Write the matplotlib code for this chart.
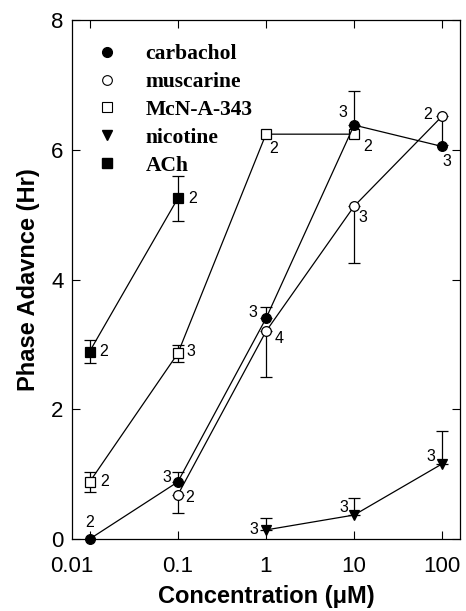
import numpy as np
import matplotlib.pyplot as plt
from matplotlib.lines import Line2D

plt.rcParams['font.family'] = ['Liberation Sans', 'DejaVu Sans']

# ==========================
# DADOS
# ==========================
carb_x = [0.01, 0.1, 1, 10, 100]
carb_y = [0.0, 0.88, 3.40, 6.38, 6.05]
carb_err = [0.0, 0.15, 0.18, 0.52, 0.0]
carb_n = ['2', '3', '3', '3', '3']

musc_x = [0.1, 1, 10, 100]
musc_y = [0.68, 3.20, 5.13, 6.52]
musc_err = [0.28, 0.71, 0.87, 0.45]
musc_n = ['2', '4', '3', '2']

mcn_x = [0.01, 0.1, 1, 10]
mcn_y = [0.88, 2.86, 6.24, 6.24]
mcn_err = [0.16, 0.13, 0.0, 0.0]
mcn_n = ['2', '3', '2', '2']

nic_x = [1, 10, 100]
nic_y = [0.14, 0.37, 1.16]
nic_err = [0.18, 0.26, 0.51]
nic_n = ['3', '3', '3']

ach_x = [0.01, 0.1]
ach_y = [2.89, 5.25]
ach_err = [0.17, 0.35]
ach_n = ['2', '2']

xticks = [0.01, 0.1, 1, 10, 100]
xticklabels = ['0.01', '0.1', '1', '10', '100']
yticks = [0, 2, 4, 6, 8]

# deslocamentos dos rotulos n (pixels)
carb_off = [(0, 17), (-11, 4), (-13, 6), (-11, 13), (5, -15)]
musc_off = [(12, -3), (13, -7), (9, -11), (-15, 2)]
mcn_off = [(15, 0), (13, 2), (8, -14), (13, -12)]
nic_off = [(-12, 0), (-10, 8), (-11, 7)]
ach_off = [(14, 0), (15, 0)]

# ==========================
# GRAFICO
# ==========================
fig = plt.figure(figsize=(4.66, 6.11), dpi=100)
ax = fig.add_axes([0.1545, 0.1178, 0.8325, 0.8495])

ax.set_xscale('log')
ax.set_xlim(10 ** -2.2, 10 ** 2.2)
ax.set_ylim(0, 8)

ms = 7

def serie(x, y, err, marker, face, direction, z):
    yerr = np.array(err)
    zero = np.zeros_like(yerr)
    if direction == 'up':
        lo, hi = zero, yerr
    elif direction == 'down':
        lo, hi = yerr, zero
    else:
        lo, hi = yerr, yerr
    # barras so onde ha erro
    m = yerr > 0
    ax.errorbar(np.array(x)[m], np.array(y)[m], yerr=[lo[m], hi[m]], fmt='none',
                ecolor='black', elinewidth=0.9, capsize=4, capthick=0.9, zorder=z - 1)
    ax.plot(x, y, marker=marker, color='black', markerfacecolor=face,
            linewidth=0.9, markersize=ms, markeredgewidth=0.9, zorder=z, clip_on=False)

serie(mcn_x, mcn_y, mcn_err, 's', 'white', 'both', 4)
serie(musc_x, musc_y, musc_err, 'o', 'white', 'down', 5)
serie(carb_x, carb_y, carb_err, 'o', 'black', 'up', 6)
serie(nic_x, nic_y, nic_err, 'v', 'black', 'up', 6)
serie(ach_x, ach_y, ach_err, 's', 'black', 'both', 6)

def rotulos(x, y, n, off):
    for xi, yi, ni, (dx, dy) in zip(x, y, n, off):
        ax.annotate(ni, (xi, yi), xytext=(dx * 0.72, dy * 0.72), textcoords='offset points',
                    ha='center', va='center', fontsize=11.5, zorder=10)

rotulos(carb_x, carb_y, carb_n, carb_off)
rotulos(musc_x, musc_y, musc_n, musc_off)
rotulos(mcn_x, mcn_y, mcn_n, mcn_off)
rotulos(nic_x, nic_y, nic_n, nic_off)
rotulos(ach_x, ach_y, ach_n, ach_off)

ax.set_xticks(xticks)
# o rotulo 0.01 fica deslocado para a esquerda, como no original
ax.set_xticklabels([''] + xticklabels[1:])
ax.annotate(xticklabels[0], (xticks[0], 0), xycoords=('data', 'axes fraction'),
            xytext=(-13, -12.5), textcoords='offset points', ha='center', va='top',
            fontsize=16)
ax.xaxis.set_minor_locator(plt.NullLocator())
ax.set_yticks(yticks)
ax.tick_params(direction='in', length=6, width=0.8, top=True, right=True,
               labelsize=16, pad=6)
ax.tick_params(axis='x', pad=12)

for s in ax.spines.values():
    s.set_linewidth(0.9)

ax.set_xlabel('Concentration (\u03bcM)', fontsize=17, fontweight='bold', labelpad=6)
ax.set_ylabel('Phase Adavnce (Hr)', fontsize=17, fontweight='bold', labelpad=8)

handles = [
    Line2D([], [], ls='none', marker='o', color='black', mfc='black', ms=ms),
    Line2D([], [], ls='none', marker='o', color='black', mfc='white', ms=ms, mew=0.8),
    Line2D([], [], ls='none', marker='s', color='black', mfc='white', ms=ms, mew=0.8),
    Line2D([], [], ls='none', marker='v', color='black', mfc='black', ms=ms),
    Line2D([], [], ls='none', marker='s', color='black', mfc='black', ms=ms),
]
names = ['carbachol', 'muscarine', 'McN-A-343', 'nicotine', 'ACh']
ax.legend(handles, names, loc='upper left', bbox_to_anchor=(0.04, 0.97), frameon=False,
          prop=dict(family='Liberation Serif', weight='bold', size=15.5),
          handlelength=1.0, handletextpad=1.3, labelspacing=0.36, borderaxespad=0)

fig.savefig('out.png', dpi=100)
